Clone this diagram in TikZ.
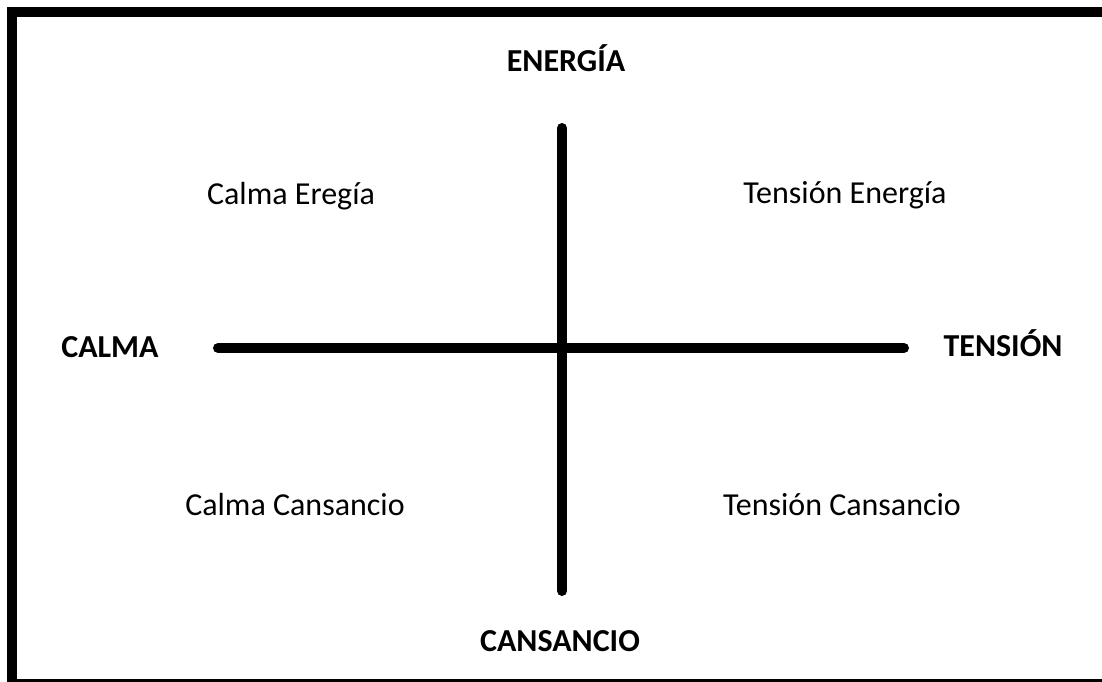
\documentclass[tikz,border=0pt]{standalone}
\usepackage{fontspec}
\setmainfont{Carlito}
\begin{document}
\begin{tikzpicture}[x=1pt,y=-1pt,
  axislabel/.style={font=\fontsize{32}{38}\selectfont\bfseries, anchor=base, inner sep=0pt},
  quadlabel/.style={font=\fontsize{32}{38}\selectfont, anchor=base, inner sep=0pt},
  axisline/.style={line width=10pt, line cap=round}]
\useasboundingbox (0,0) rectangle (1102,682);
\clip (0,0) rectangle (1102,682);
\fill[white] (0,0) rectangle (1102,682);
\draw[line width=10pt] (12,12) rectangle (1115,684);
\coordinate (hl) at (218,348);
\coordinate (hr) at (904,348);
\coordinate (vt) at (562,128);
\coordinate (vb) at (562,591);
\draw[axisline] (hl) -- (hr);
\draw[axisline] (vt) -- (vb);
\node[axislabel] (energia) at (566,72) {ENERGÍA};
\node[axislabel] (cansancio) at (560,651) {CANSANCIO};
\node[axislabel] (calma) at (110,357) {CALMA};
\node[axislabel] (tension) at (1003,356) {TENSIÓN};
\node[quadlabel] (ce) at (291,204) {Calma Eregía};
\node[quadlabel] (te) at (845,203) {Tensión Energía};
\node[quadlabel] (cc) at (295,515) {Calma Cansancio};
\node[quadlabel] (tc) at (842,515) {Tensión Cansancio};
\end{tikzpicture}
\end{document}
